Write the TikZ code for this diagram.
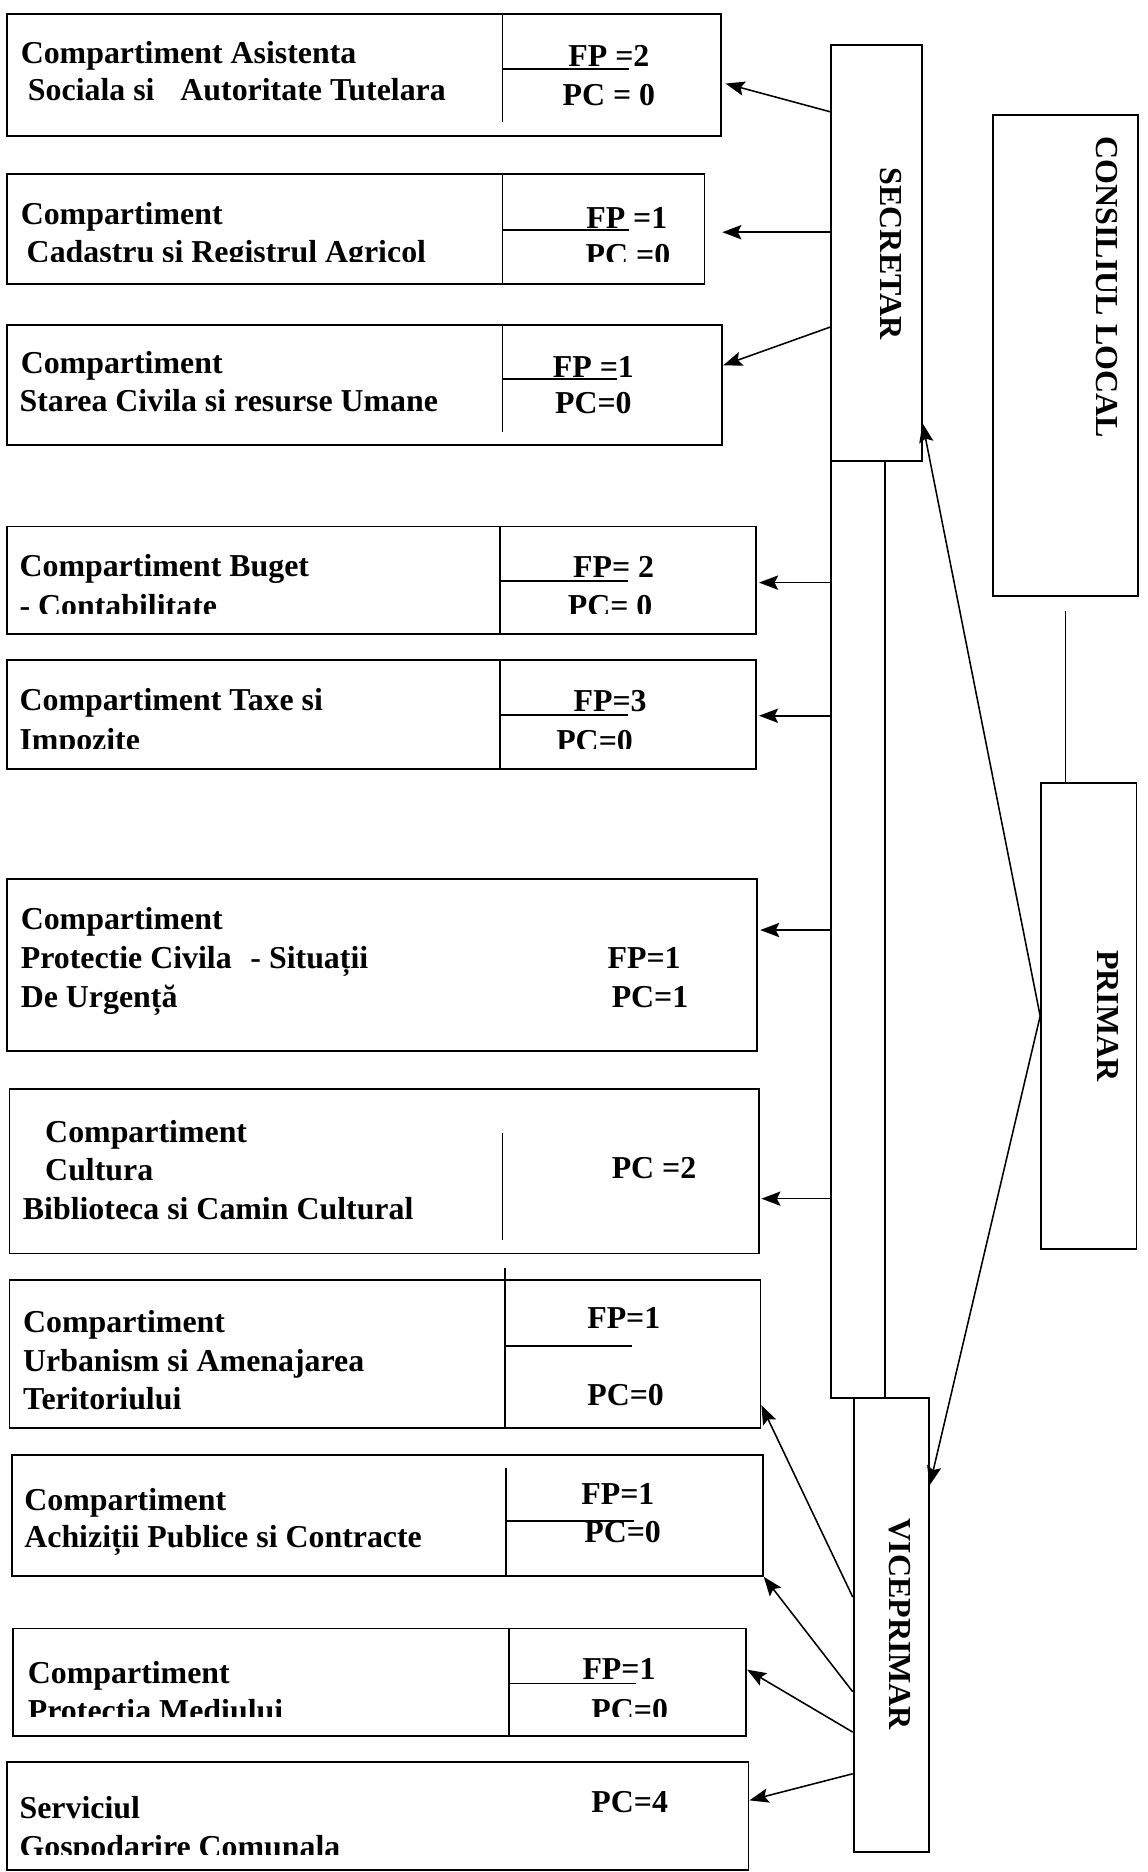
\documentclass[tikz,border=0pt]{standalone}
\usepackage{fontspec}
\setmainfont{Liberation Serif}
\usetikzlibrary{arrows.meta,fit,calc}
\begin{document}
\begin{tikzpicture}[x=0.5pt,y=-0.5pt,
  box/.style={draw, line width=0.75pt, inner sep=0pt},
  sep/.style={line width=0.65pt},
  txt/.style={anchor=base west, inner sep=0pt, font=\fontsize{13.35}{16}\selectfont\bfseries},
  ctxt/.style={anchor=base, inner sep=0pt, font=\fontsize{13.35}{16}\selectfont\bfseries},
  vtxt/.style={rotate=-90, inner sep=0pt, font=\fontsize{13.4}{16}\selectfont\bfseries},
  arr/.style={line width=0.65pt, -{Stealth[length=8pt,width=6pt,inset=1.5pt]}},
  link/.style={line width=0.65pt}]
\fill[white] (0,0) rectangle (961,1568);
\useasboundingbox (0,0) rectangle (961,1568);

% ---------- department boxes ----------
\node[box, fit={(6,12) (604,114)}] (bA) {};
\node[box, fit={(6,146) (590,238)}] (bB) {};
\node[box, fit={(6,272) (605,373)}] (bC) {};
\node[box, fit={(6,441) (633,531)}] (bD) {};
\node[box, fit={(6,553) (633,644)}] (bE) {};
\node[box, fit={(6,736) (634,880)}] (bF) {};
\node[box, fit={(8,912) (636,1050)}] (bG) {};
\node[box, fit={(8,1072) (637,1196)}] (bH) {};
\node[box, fit={(10,1219) (639,1320)}] (bI) {};
\node[box, fit={(11,1364) (625,1454)}] (bJ) {};
\node[box, fit={(6,1476) (627,1566)}] (bK) {};

% dividers and FP lines
\draw[sep] (421,12) -- (421,102);   \draw[sep] (421,58) -- (527,58);
\draw[sep] (421,146) -- (421,238);  \draw[sep] (421,192.5) -- (527,192.5);
\draw[sep] (421,272) -- (421,362);  \draw[sep] (421,317.5) -- (517,317.5);
\draw[sep] (419,441) -- (419,531);  \draw[sep] (419,486.5) -- (526,486.5);
\draw[sep] (419,553) -- (419,644);  \draw[sep] (419,599) -- (526,599);
\draw[sep] (421,949) -- (421,1039);
\draw[sep] (423,1062) -- (423,1196); \draw[sep] (423,1127.6) -- (529.5,1127.6);
\draw[sep] (424,1230) -- (424,1319); \draw[sep] (424,1274) -- (531,1274);
\draw[sep] (426.5,1364) -- (426.5,1454); \draw[sep] (426.5,1410) -- (533,1410);

% ---------- texts ----------
\node[txt] (tA1) at (17,53) {Compartiment Asistenta};
\node[txt] (tA2) at (23,84) {Sociala si\hspace{7.5pt} Autoritate Tutelara};
\node[ctxt] (fA) at (510,56) {FP =2};
\node[ctxt] (pA) at (510,88) {PC = 0};

\node[txt] (tB1) at (17,188) {Compartiment};
\node[ctxt] (fB) at (525,191) {FP =1};
\begin{scope}
  \clip (6,146) rectangle (590,219);
  \node[txt] (tB2) at (22,220) {Cadastru si Registrul Agricol};
  \node[ctxt] (pB) at (526,222) {PC =0};
\end{scope}

\node[txt] (tC1) at (17,313) {Compartiment};
\node[txt] (tC2) at (16,345) {Starea Civila si resurse Umane};
\node[ctxt] (fC) at (497,316) {FP =1};
\node[ctxt] (pC) at (497,346) {PC=0};

\node[txt] (tD1) at (16,483) {Compartiment Buget};
\node[ctxt] (fD) at (514,484) {FP= 2};
\begin{scope}
  \clip (6,441) rectangle (633,514);
  \node[txt] (tD2) at (16,516) {- Contabilitate};
  \node[ctxt] (pD) at (511,516.5) {PC= 0};
\end{scope}

\node[txt] (tE1) at (16,595.5) {Compartiment Taxe si};
\node[ctxt] (fE) at (511,596) {FP=3};
\begin{scope}
  \clip (6,553) rectangle (633,627);
  \node[txt] (tE2) at (16,628.5) {Impozite};
  \node[ctxt] (pE) at (498,629.5) {PC=0};
\end{scope}

\node[txt] (tF1) at (17,778.5) {Compartiment};
\node[txt] (tF2) at (17,811) {Protectie Civila\hspace{4.5pt} - Situații};
\node[txt] (tF3) at (17,843.5) {De Urgență};
\node[txt] (fF) at (508.5,811) {FP=1};
\node[txt] (pF) at (512,843.5) {PC=1};

\node[txt] (tG1) at (37.5,957) {Compartiment};
\node[txt] (tG2) at (37.5,989) {Cultura};
\node[txt] (tG3) at (18.8,1021.5) {Biblioteca si Camin Cultural};
\node[txt] (pG) at (512,987) {PC =2};

\node[txt] (tH1) at (19,1116) {Compartiment};
\node[txt] (tH2) at (19,1148.5) {Urbanism si Amenajarea};
\node[txt] (tH3) at (19,1180.5) {Teritoriului};
\node[txt] (fH) at (491.5,1113) {FP=1};
\node[txt] (pH) at (491.5,1177.5) {PC=0};

\node[txt] (tI1) at (20,1265) {Compartiment};
\node[txt] (tI2) at (20,1296.5) {Achiziții Publice si Contracte};
\node[txt] (fI) at (486.5,1260) {FP=1};
\node[txt] (pI) at (489,1292) {PC=0};

\node[txt] (tJ1) at (23,1410.5) {Compartiment};
\node[txt] (fJ) at (487.5,1406.5) {FP=1};
\begin{scope}
  \clip (11,1364) rectangle (625,1438);
  \node[txt] (tJ2) at (23,1442) {Protectia Mediului};
  \node[txt] (pJ) at (495,1441) {PC=0};
\end{scope}

\node[txt] (tK1) at (16,1523.5) {Serviciul};
\node[txt] (pK) at (495,1518) {PC=4};
\begin{scope}
  \clip (6,1476) rectangle (627,1553.5);
  \node[txt] (tK2) at (16,1556) {Gospodarire Comunala};
\end{scope}

% ---------- management boxes ----------
\node[box, fit={(696,38) (772,386)}] (sec) {};
\node[box, fit={(696,386) (741,1171)}] (seccol) {};
\node[box, fit={(715,1171) (778,1551)}] (vice) {};
\node[box, fit={(832,96) (953,499)}] (cons) {};
\node[box, fit={(872,656) (952,1046)}] (primar) {};

\node[vtxt] (tsec) at (746.5,212.5) {SECRETAR};
\node[vtxt] (tcons) at (927,240.5) {CONSILIUL LOCAL};
\node[vtxt] (tprim) at (928,851) {PRIMAR};
\node[vtxt] (tvice) at (754,1360.5) {VICEPRIMAR};

% ---------- connectors ----------
\coordinate (tipB) at (605,194.5);
\draw[arr] (sec.west |- 0,93.6) -- ($(bA.east |- 0,70)+(3,0)$);
\draw[arr] (sec.west |- tipB) -- (tipB);
\draw[arr] (sec.west |- 0,274) -- (bC.east |- 0,306);
\draw[arr] (seccol.west |- 0,488) -- ($(bD.east |- 0,488)+(2,0)$);
\draw[arr] (seccol.west |- 0,599.5) -- ($(bE.east |- 0,599.5)+(2,0)$);
\draw[arr] (seccol.west |- 0,779) -- ($(bF.east |- 0,779)+(2,0)$);
\draw[arr] (seccol.west |- 0,1004) -- ($(bG.east |- 0,1004)+(1,0)$);

\draw[arr] (primar.west) -- (sec.east |- 0,354.6);
\draw[arr] (primar.west) -- (vice.east |- 0,1244);
\draw[link] ($(cons.south)+(0,12)$) -- (cons.south |- primar.north);

\draw[arr] (vice.west |- 0,1337.7) -- (bH.east |- 0,1177);
\draw[arr] (vice.west |- 0,1417) -- (bI.south east);
\draw[arr] (vice.west |- 0,1450.8) -- (bJ.east |- 0,1398.5);
\draw[arr] (vice.west |- 0,1485.7) -- (bK.east |- 0,1508);
\end{tikzpicture}
\end{document}
